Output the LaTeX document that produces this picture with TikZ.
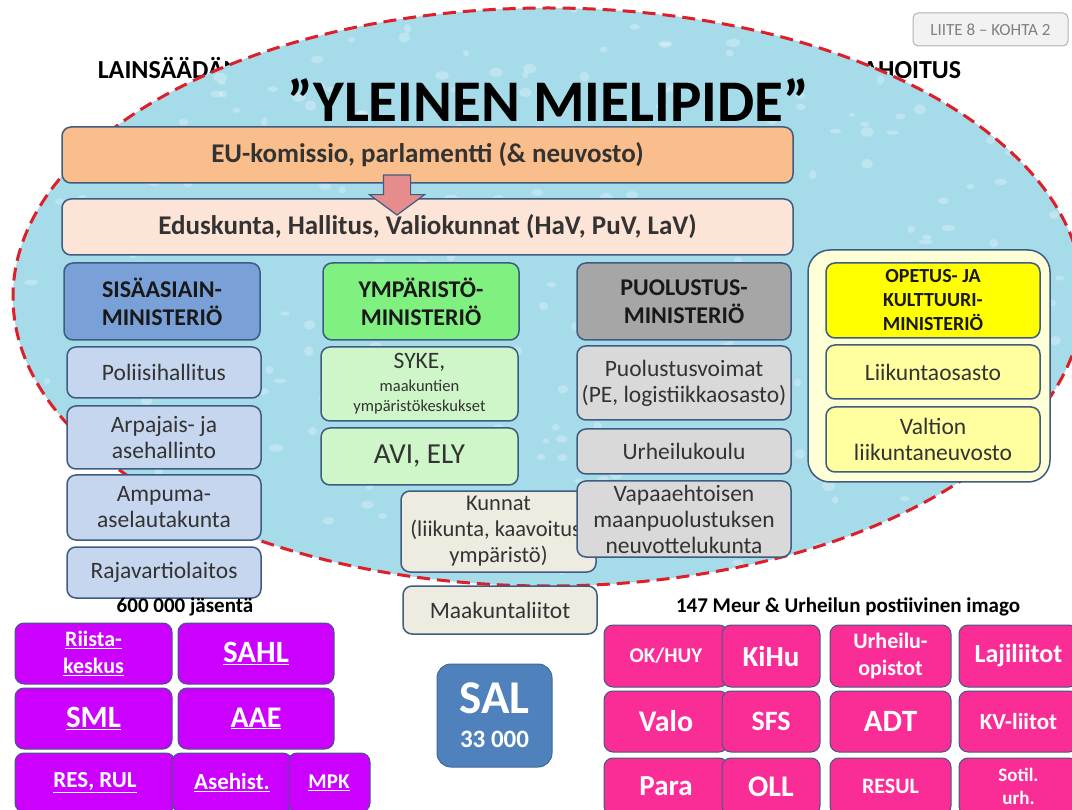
\documentclass[tikz,border=0pt]{standalone}
\usepackage{fontspec}
\setmainfont{Carlito}
\usetikzlibrary{shapes.arrows}

\definecolor{frame}{RGB}{62,92,128}
\definecolor{lake}{RGB}{166,220,234}
\definecolor{dashred}{RGB}{222,30,40}
\definecolor{euor}{RGB}{250,190,140}
\definecolor{edus}{RGB}{252,228,214}
\definecolor{sisahead}{RGB}{122,160,216}
\definecolor{sisasub}{RGB}{198,214,238}
\definecolor{ymphead}{RGB}{128,240,128}
\definecolor{ympsub}{RGB}{206,246,200}
\definecolor{puolhead}{RGB}{166,166,166}
\definecolor{puolsub}{RGB}{217,217,217}
\definecolor{opout}{RGB}{255,255,215}
\definecolor{ophead}{RGB}{255,255,0}
\definecolor{opsub}{RGB}{255,255,160}
\definecolor{kunta}{RGB}{238,236,225}
\definecolor{violet}{RGB}{204,0,255}
\definecolor{hotpink}{RGB}{250,45,150}
\definecolor{salblue}{RGB}{79,129,189}
\definecolor{arrowpink}{RGB}{230,140,140}

\newcommand{\fs}[1]{\fontsize{#1pt}{1.25\dimexpr#1pt\relax}\selectfont}

\begin{document}
\begin{tikzpicture}
  [x=1pt,y=-1pt,every node/.style={rounded corners=9pt,draw=frame,line width=1.5pt,inner sep=2pt,align=center,text=black!80},
   wh/.style 2 args={minimum width=#1,minimum height=#2}]
  \tikzstyle{plain} = [draw=none,fill=none,rounded corners=0pt,inner sep=0pt,text=black]
  \tikzstyle{head} = [font=\fontsize{24}{28}\selectfont\bfseries,text=black!90]
  \tikzstyle{sub} = [font=\fontsize{23.5}{26}\selectfont]
  \tikzstyle{club} = [line width=1pt,text=white]
  \useasboundingbox (0,0) rectangle (1072,810);

  % behind the cloud
  \node[plain,anchor=base west,font=\fontsize{26}{28}\selectfont\bfseries] (lains) at (97,79) {LAINSÄÄDÄNTÖ};
  \node[plain,anchor=base east,font=\fontsize{26}{28}\selectfont\bfseries] (rahoitus) at (962,79) {RAHOITUS};
  \node[fill=black!5,draw=black!30,line width=1pt,rounded corners=5pt,wh={155}{33},
        font=\fontsize{17}{19}\selectfont,text=black!50] (liite) at (990.5,29.5) {LIITE 8 -- KOHTA 2};

  \fill[lake] (548,297) ellipse [x radius=535,y radius=289];
  \begin{scope}
    \clip (548,297) ellipse [x radius=535,y radius=289];
    \pgfmathsetseed{11}
    \foreach \i in {1,...,420}
      \fill[white,opacity=.28] (rnd*1072,rnd*590) ellipse [x radius=3+rnd*4,y radius=2+rnd*3];
  \end{scope}
  \draw[dashred,line width=3pt,dash pattern=on 13pt off 7pt] (548,297) ellipse [x radius=535,y radius=289];

  \node[plain,font=\fontsize{59}{62}\selectfont\bfseries] (yleinen) at (548,100) {”YLEINEN MIELIPIDE”};

  \node[fill=euor,wh={731}{56},font=\fontsize{27}{30}\selectfont\bfseries] (eu) at (427.5,155)
    {EU-komissio, parlamentti (\& neuvosto)};
  \node[fill=edus,wh={731}{56},font=\fontsize{27}{30}\selectfont\bfseries] (edus) at (427.5,227)
    {Eduskunta, Hallitus, Valiokunnat (HaV, PuV, LaV)};
  \node[single arrow,shape border rotate=270,fill=arrowpink,draw=frame,line width=1.2pt,rounded corners=0pt,
        inner xsep=13pt,inner ysep=0pt,minimum height=40pt,single arrow head extend=14pt,
        single arrow tip angle=107] (arr) at (397,190) {};

  % ministries
  \node[head,fill=sisahead,wh={196}{77}] (sisa) at (162,301.5) {SISÄASIAIN-\\MINISTERIÖ};
  \foreach \nm/\y/\h/\txt in {polii/372.5/51/Poliisihallitus,arpa/437.5/63/{Arpajais- ja\\asehallinto},
      ampu/507.5/65/{Ampuma-\\aselautakunta},raja/572.5/51/Rajavartiolaitos}
    \node[sub,fill=sisasub,wh={194}{\h}] (\nm) at (164,\y) {\txt};

  \node[head,fill=ymphead,wh={196}{77}] (ymp) at (421,301.5) {YMPÄRISTÖ-\\MINISTERIÖ};
  \node[sub,fill=ympsub,wh={197}{74}] (syke) at (419.5,384)
    {SYKE,\\[-3pt]\fontsize{16.5}{18}\selectfont maakuntien\\[-6pt]\fontsize{16.5}{18}\selectfont ympäristökeskukset};
  \node[fill=ympsub,wh={197}{57},font=\fontsize{29}{32}\selectfont] (avi) at (419.5,456.5) {AVI, ELY};

  \node[sub,fill=kunta,wh={195}{81},font=\fontsize{22.5}{26}\selectfont] (kunnat) at (498.5,531.5)
    {Kunnat\\(liikunta, kaavoitus,\\ympäristö)};
  \node[sub,fill=kunta,wh={194}{48}] (maak) at (500,610) {Maakuntaliitot};

  \node[head,fill=puolhead,wh={214}{77}] (puol) at (684,301.5) {PUOLUSTUS-\\MINISTERIÖ};
  \foreach \nm/\y/\h/\txt in {pv/383/74/{Puolustusvoimat\\(PE, logistiikkaosasto)},urkou/451.5/45/Urheilukoulu,
      mpneuv/519/76/{Vapaaehtoisen\\maanpuolustuksen\\neuvottelukunta}}
    \node[sub,fill=puolsub,wh={214}{\h}] (\nm) at (684,\y) {\txt};

  \node[fill=opout,wh={242}{232},rounded corners=22pt] (okm) at (929,366) {};
  \node[head,fill=ophead,wh={214}{75},font=\fontsize{20}{24}\selectfont\bfseries] (okmhead) at (933,300.5)
    {OPETUS- JA\\KULTTUURI-\\MINISTERIÖ};
  \node[sub,fill=opsub,wh={214}{54}] (liik) at (933,372) {Liikuntaosasto};
  \node[sub,fill=opsub,wh={214}{65}] (vln) at (933,439.5) {Valtion\\liikuntaneuvosto};

  % associations
  \node[plain,font=\fontsize{21}{23}\selectfont\bfseries] (jasen) at (185,607) {600 000 jäsentä};
  \node[plain,font=\fontsize{21}{23}\selectfont\bfseries] (meur) at (848,607) {147 Meur \& Urheilun postiivinen imago};

  \foreach \nm/\x/\y/\w/\h/\fsz/\txt in {riista/93.5/653.5/157/61/22/{\underline{Riista-}\\\underline{keskus}},
      sahl/256/653.5/156/61/31/\underline{SAHL},sml/93.5/718.5/157/61/31/\underline{SML},
      aae/256/718.5/156/61/30/\underline{AAE},res/95/782.5/160/59/23/{\underline{RES, RUL}},
      asehist/232/782.5/120/59/23/\underline{Asehist.},mpk/329/782.5/82/59/21/\underline{MPK}}
    \node[club,fill=violet,wh={\w}{\h},font=\fs{\fsz}\bfseries] (\nm) at (\x,\y) {\txt};

  \node[fill=salblue,draw=salblue!80!black,line width=1pt,wh={115}{103},rounded corners=14pt,text=white,
        font=\fontsize{25}{30}\selectfont\bfseries] (sal) at (494.5,715.5)
    {\fontsize{47}{50}\selectfont SAL\\[4pt]33 000};

  \foreach \nm/\x/\y/\w/\h/\fsz/\txt in {okhuy/666/656/124/62/21/{OK/HUY},kihu/771/656/98/62/29/KiHu,
      valo/666/721.5/124/61/30/Valo,sfs/771/721.5/98/61/28/SFS,
      para/666/786.5/124/57/29/Para,oll/771/786.5/98/57/30/OLL,
      uopist/890.5/656/121/62/22/{Urheilu-\\opistot},adt/890.5/721.5/121/61/31/ADT,resul/890.5/786.5/121/57/22/RESUL,
      laji/1018.5/656/119/62/26/Lajiliitot,kv/1018.5/721.5/119/61/23/KV-liitot,sotil/1018.5/786.5/119/57/19/{Sotil.\\urh.}}
    \node[club,fill=hotpink,wh={\w}{\h},font=\fs{\fsz}\bfseries] (\nm) at (\x,\y) {\txt};
\end{tikzpicture}
\end{document}
